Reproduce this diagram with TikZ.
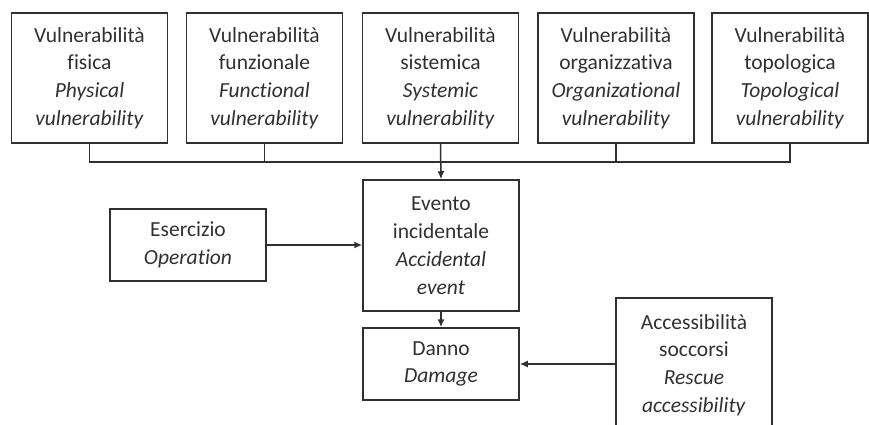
\documentclass[tikz,border=0pt]{standalone}
\usepackage{fontspec}
\setmainfont{Carlito}[Ligatures=NoCommon]
\usetikzlibrary{arrows.meta}
\definecolor{ink}{HTML}{303030}
\tikzset{
  box/.style={draw=ink, line width=1.5pt, text=ink, minimum width=156pt,
    text width=150pt, align=center, inner sep=0pt,
    font=\fontsize{21.5}{27.8}\selectfont},
  link/.style={draw=ink, line width=1.5pt},
  arr/.style={link, -{Latex[length=8pt,width=7pt]}}
}
\begin{document}
\begin{tikzpicture}[x=1pt,y=-1pt]
\useasboundingbox (0,0) rectangle (869,425);
\clip (0,0) rectangle (869,425);
% vulnerability row
\node[box, minimum height=130pt] (b1) at (89.5,78) {Vulnerabilità\\fisica\\\textit{Physical}\\\textit{vulnerability}};
\node[box, minimum height=130pt] (b2) at (264.5,78) {Vulnerabilità\\funzionale\\\textit{Functional}\\\textit{vulnerability}};
\node[box, minimum height=130pt] (b3) at (440.5,78) {Vulnerabilità\\sistemica\\\textit{Systemic}\\\textit{vulnerability}};
\node[box, minimum height=130pt] (b4) at (616,78) {Vulnerabilità\\organizzativa\\\textit{Organizational}\\\textit{vulnerability}};
\node[box, minimum height=130pt] (b5) at (790,78) {Vulnerabilità\\topologica\\\textit{Topological}\\\textit{vulnerability}};
% central chain
\node[box, minimum height=131pt] (ev) at (441,245.5) {Evento\\incidentale\\\textit{Accidental}\\\textit{event}};
\node[box, minimum height=72pt] (dm) at (441,364) {Danno\\\textit{Damage}};
\node[box, minimum height=72pt] (es) at (188,245) {Esercizio\\\textit{Operation}};
\node[box, minimum height=134pt] (ac) at (694,365) {Accessibilità\\soccorsi\\\textit{Rescue}\\\textit{accessibility}};
% collecting bus
\coordinate (bus) at (441,162);
\draw[link] (b1.south) |- (b5.south |- bus) -- (b5.south);
\draw[link] (b2.south) -- (b2.south |- bus);
\draw[link] (b4.south) -- (b4.south |- bus);
\draw[arr] (b3.south) -- (ev.north);
% other connectors
\draw[arr] (es.east) -- (ev.west |- es.east);
\draw[arr] (ev.south) -- (dm.north);
\draw[arr] (ac.west |- dm.east) -- (dm.east);
\end{tikzpicture}
\end{document}
